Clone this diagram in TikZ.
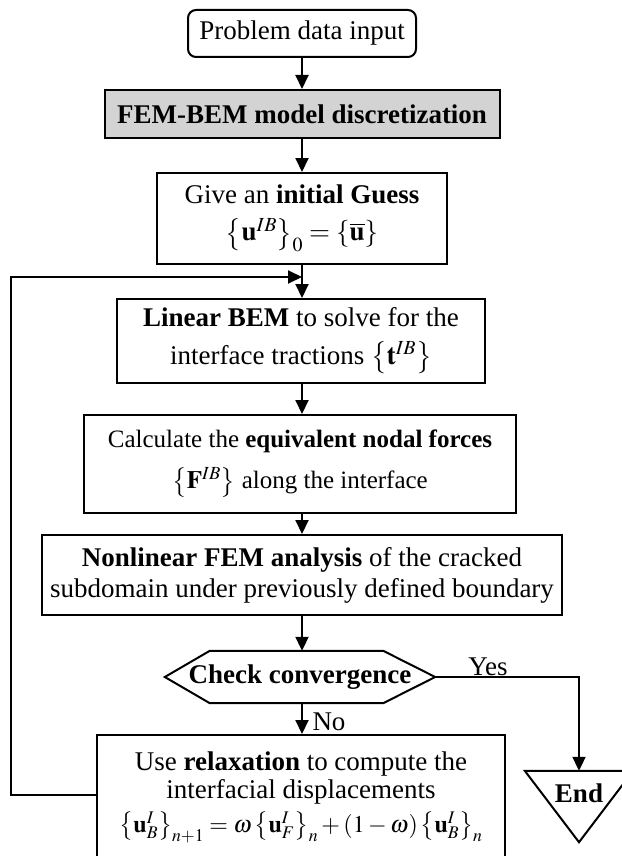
\documentclass[tikz,border=0pt]{standalone}
\usepackage{mathptmx}
\usepackage[no-math]{fontspec}
\setmainfont{Liberation Serif}
\usetikzlibrary{arrows.meta,calc}
\definecolor{discgray}{RGB}{211,211,211}
\begin{document}
\begin{tikzpicture}[x=1pt,y=-1pt,
  every node/.style={font=\fontsize{27}{31}\selectfont},
  box/.style={draw, line width=2pt, inner sep=0pt, align=center},
  ghost/.style={inner sep=0pt, align=center},
  arr/.style={line width=2pt, -{Triangle[length=14pt,width=13pt]}},
  outline/.style={line width=2pt, line join=miter},
  lbl/.style={inner sep=0pt}]
\useasboundingbox (0,0) rectangle (621,856);

\node[box, rounded corners=8pt, minimum width=228pt, minimum height=47pt] (start) at (302,33.5) {Problem data input};
\node[box, fill=discgray, minimum width=395pt, minimum height=48pt] (disc) at (302,114) {\textbf{FEM-BEM model discretization}};
\node[box, minimum width=290pt, minimum height=91pt] (guess) at (302,218.5)
  {Give an \textbf{initial Guess}\\[6pt] $\left\{\mathbf{u}^{IB}\right\}_0=\left\{\overline{\mathbf{u}}\right\}$};
\node[box, minimum width=368pt, minimum height=84pt] (bem) at (301,341)
  {\textbf{Linear BEM} to solve for the\\[7pt] interface tractions $\left\{\mathbf{t}^{IB}\right\}$};
\node[box, minimum width=432pt, minimum height=98pt, font=\fontsize{25}{29}\selectfont] (nodal) at (300,464)
  {Calculate the \textbf{equivalent nodal forces}\\[12pt] $\left\{\mathbf{F}^{IB}\right\}$ along the interface};
\node[box, minimum width=520pt, minimum height=80pt] (fem) at (302,575)
  {\textbf{Nonlinear FEM analysis} of the cracked\\ subdomain under previously defined boundary};
\node[ghost, minimum width=270pt, minimum height=52pt] (check) at (300,677) {\textbf{Check convergence}};
\draw[outline] (check.west) -- ($(check.north west)+(45,0)$) -- ($(check.north east)+(-52,0)$) -- (check.east)
  -- ($(check.south east)+(-52,0)$) -- ($(check.south west)+(45,0)$) -- cycle;
\node[box, minimum width=408pt, minimum height=124pt] (relax) at (301,797)
  {Use \textbf{relaxation} to compute the\\[-3pt] interfacial displacements\\[3pt]
   {\fontsize{24}{28}\selectfont$\left\{\mathbf{u}^{I}_{B}\right\}_{n+1}=\omega\left\{\mathbf{u}^{I}_{F}\right\}_{n}+\left(1-\omega\right)\left\{\mathbf{u}^{I}_{B}\right\}_{n}$}};
\node[ghost, minimum width=108pt, minimum height=71pt] (end) at (579,806.5) {};
\draw[outline] (end.north west) -- (end.north east) -- (end.south) -- cycle;
\node[lbl] (endtxt) at (579,793) {\textbf{End}};

\coordinate (col) at (302,0);
\draw[arr] (col|-start.south) -- (col|-disc.north);
\draw[arr] (col|-disc.south) -- (col|-guess.north);
\draw[arr] (col|-guess.south) -- (col|-bem.north);
\draw[arr] (col|-bem.south) -- (col|-nodal.north);
\draw[arr] (col|-nodal.south) -- (col|-fem.north);
\draw[arr] (col|-fem.south) -- (col|-check.north);
\draw[arr] (col|-check.south) -- (col|-relax.north);
\draw[arr] (check.east) -| (end.north);
\coordinate (loopL) at (11,795);
\coordinate (loopT) at (11,277);
\draw[arr] (relax.west|-loopL) -- (loopL) -- (loopT) -- (col|-loopT);

\node[lbl] (yes) at (488,667) {Yes};
\node[lbl] (no) at (329,722) {No};
\end{tikzpicture}
\end{document}
